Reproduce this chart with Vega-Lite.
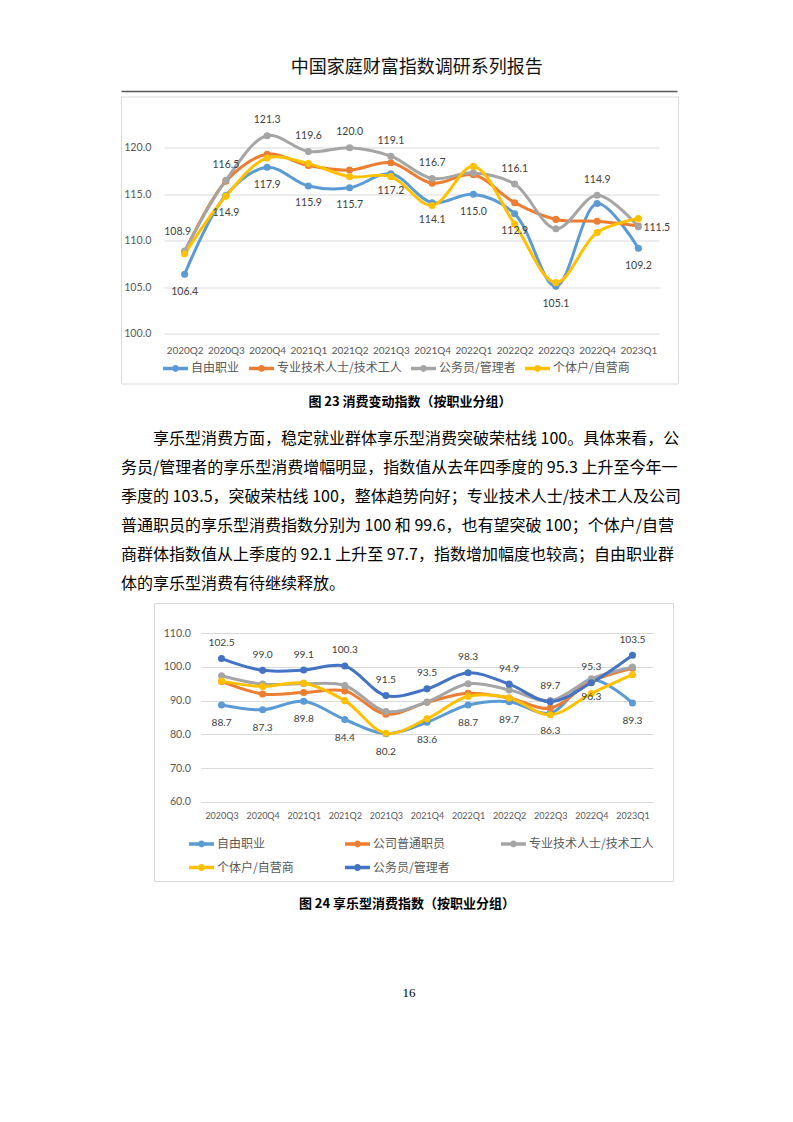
{
  "$schema": "https://vega.github.io/schema/vega-lite/v6.json",
  "padding": {"left": 120, "top": 44, "right": 0, "bottom": 0},
  "background": "white",
  "config": {"view": {"stroke": null}, "font": "Lato"},
  "spacing": 4.5,
  "bounds": "full",
  "resolve": {"scale": {"color": "independent"}, "legend": {"color": "independent"}},
  "vconcat": [
    {
      "width": 556, "height": 47,
      "data": {"values": [{"t": "中国家庭财富指数调研系列报告"}]},
      "mark": {"type": "text", "font": "Noto Sans CJK SC", "fontSize": 18, "color": "#111111", "dx": 17.7, "baseline": "middle"},
      "encoding": {
        "text": {"field": "t"},
        "x": {"field": "t", "type": "nominal", "scale": {"type": "point", "padding": 0.5},
              "axis": {"title": null, "labels": false, "ticks": false, "grid": false, "domain": true, "domainColor": "#595959", "domainWidth": 1.3}}
      }
    },
    {
      "width": 557, "height": 287,
      "view": {"stroke": "#D9D9D9", "strokeWidth": 1},
      "data": {"values": [
        {"s": "自由职业", "q": "2020Q2", "v": 106.4}, {"s": "自由职业", "q": "2020Q3", "v": 114.9}, {"s": "自由职业", "q": "2020Q4", "v": 117.9}, {"s": "自由职业", "q": "2021Q1", "v": 115.9}, {"s": "自由职业", "q": "2021Q2", "v": 115.7}, {"s": "自由职业", "q": "2021Q3", "v": 117.2}, {"s": "自由职业", "q": "2021Q4", "v": 114.1}, {"s": "自由职业", "q": "2022Q1", "v": 115.0}, {"s": "自由职业", "q": "2022Q2", "v": 112.9}, {"s": "自由职业", "q": "2022Q3", "v": 105.1}, {"s": "自由职业", "q": "2022Q4", "v": 114.0}, {"s": "自由职业", "q": "2023Q1", "v": 109.2},
        {"s": "专业技术人士/技术工人", "q": "2020Q2", "v": 108.8}, {"s": "专业技术人士/技术工人", "q": "2020Q3", "v": 116.4}, {"s": "专业技术人士/技术工人", "q": "2020Q4", "v": 119.3}, {"s": "专业技术人士/技术工人", "q": "2021Q1", "v": 118.1}, {"s": "专业技术人士/技术工人", "q": "2021Q2", "v": 117.6}, {"s": "专业技术人士/技术工人", "q": "2021Q3", "v": 118.4}, {"s": "专业技术人士/技术工人", "q": "2021Q4", "v": 116.2}, {"s": "专业技术人士/技术工人", "q": "2022Q1", "v": 117.1}, {"s": "专业技术人士/技术工人", "q": "2022Q2", "v": 114.1}, {"s": "专业技术人士/技术工人", "q": "2022Q3", "v": 112.3}, {"s": "专业技术人士/技术工人", "q": "2022Q4", "v": 112.1}, {"s": "专业技术人士/技术工人", "q": "2023Q1", "v": 111.6},
        {"s": "公务员/管理者", "q": "2020Q2", "v": 108.9}, {"s": "公务员/管理者", "q": "2020Q3", "v": 116.5}, {"s": "公务员/管理者", "q": "2020Q4", "v": 121.3}, {"s": "公务员/管理者", "q": "2021Q1", "v": 119.6}, {"s": "公务员/管理者", "q": "2021Q2", "v": 120.0}, {"s": "公务员/管理者", "q": "2021Q3", "v": 119.1}, {"s": "公务员/管理者", "q": "2021Q4", "v": 116.7}, {"s": "公务员/管理者", "q": "2022Q1", "v": 117.3}, {"s": "公务员/管理者", "q": "2022Q2", "v": 116.1}, {"s": "公务员/管理者", "q": "2022Q3", "v": 111.3}, {"s": "公务员/管理者", "q": "2022Q4", "v": 114.9}, {"s": "公务员/管理者", "q": "2023Q1", "v": 111.5},
        {"s": "个体户/自营商", "q": "2020Q2", "v": 108.6}, {"s": "个体户/自营商", "q": "2020Q3", "v": 114.8}, {"s": "个体户/自营商", "q": "2020Q4", "v": 118.9}, {"s": "个体户/自营商", "q": "2021Q1", "v": 118.3}, {"s": "个体户/自营商", "q": "2021Q2", "v": 116.9}, {"s": "个体户/自营商", "q": "2021Q3", "v": 116.9}, {"s": "个体户/自营商", "q": "2021Q4", "v": 113.8}, {"s": "个体户/自营商", "q": "2022Q1", "v": 118.0}, {"s": "个体户/自营商", "q": "2022Q2", "v": 111.8}, {"s": "个体户/自营商", "q": "2022Q3", "v": 105.5}, {"s": "个体户/自营商", "q": "2022Q4", "v": 110.9}, {"s": "个体户/自营商", "q": "2023Q1", "v": 112.4}
      ]},
      "encoding": {
        "x": {"field": "q", "type": "ordinal", "sort": null,
              "scale": {"type": "point", "range": [43, 538], "padding": 0.5},
              "axis": {"title": null, "orient": "bottom", "offset": -49.7, "labelPadding": 11.5, "ticks": false, "domain": false, "grid": false, "labelAngle": 0, "labelFont": "Lato", "labelFontSize": 10, "labelColor": "#595959"}},
        "y": {"field": "v", "type": "quantitative",
              "scale": {"domain": [100, 120], "range": [237.3, 51.3], "nice": false, "zero": false},
              "axis": {"title": null, "offset": -43, "labelPadding": 13, "values": [100, 105, 110, 115, 120], "format": ".1f", "ticks": false, "domain": false, "grid": true, "gridColor": "#D9D9D9", "gridWidth": 1, "labelFont": "Lato", "labelFontSize": 10.7, "labelColor": "#595959"}},
        "color": {"field": "s", "type": "nominal",
                  "scale": {"domain": ["自由职业", "专业技术人士/技术工人", "公务员/管理者", "个体户/自营商"], "range": ["#5B9BD5", "#ED7D31", "#A5A5A5", "#FFC000"]},
                  "legend": {"title": null, "orient": "none", "legendX": 40, "legendY": 257, "direction": "horizontal", "columns": 4, "columnPadding": 2, "padding": 0,
                             "symbolType": "M-1,0L1,0M-0.14,0A0.14,0.14,0,1,0,0.14,0A0.14,0.14,0,1,0,-0.14,0", "symbolSize": 625, "symbolStrokeWidth": 3.5,
                             "labelFont": "Noto Sans CJK SC", "labelFontSize": 12, "labelColor": "#595959", "labelOffset": 1}}
      },
      "layer": [
        {"mark": {"type": "line", "interpolate": "catmull-rom", "strokeWidth": 3}},
        {"mark": {"type": "point", "filled": true, "size": 50, "opacity": 1}},
        {"transform": [{"filter": "datum.s === '公务员/管理者' && indexof(['2020Q2', '2022Q1', '2022Q3', '2023Q1'], datum.q) < 0"}],
         "mark": {"type": "text", "dy": -15.5, "font": "Lato", "fontSize": 10.5},
         "encoding": {"text": {"field": "v", "format": ".1f"}, "color": {"value": "#404040"}}},
        {"transform": [{"filter": "datum.s === '公务员/管理者' && datum.q === '2020Q2'"}],
         "mark": {"type": "text", "dx": -7, "dy": -19, "font": "Lato", "fontSize": 10.5},
         "encoding": {"text": {"field": "v", "format": ".1f"}, "color": {"value": "#404040"}}},
        {"transform": [{"filter": "datum.s === '公务员/管理者' && datum.q === '2023Q1'"}],
         "mark": {"type": "text", "align": "left", "dx": 5, "dy": 1, "font": "Lato", "fontSize": 10.5},
         "encoding": {"text": {"field": "v", "format": ".1f"}, "color": {"value": "#404040"}}},
        {"transform": [{"filter": "datum.s === '自由职业' && datum.q !== '2022Q4'"}],
         "mark": {"type": "text", "dy": 17.5, "font": "Lato", "fontSize": 10.5},
         "encoding": {"text": {"field": "v", "format": ".1f"}, "color": {"value": "#404040"}}}
      ]
    },
    {
      "width": 578, "height": 26,
      "data": {"values": [{"t": "图 23 消费变动指数（按职业分组）"}]},
      "mark": {"type": "text", "font": "Noto Sans CJK SC", "fontSize": 13, "fontWeight": "bold", "color": "#000000", "baseline": "middle"},
      "encoding": {"text": {"field": "t"}}
    },
    {
      "width": 560, "height": 178,
      "data": {"values": [
        {"n": 1, "t": "享乐型消费方面，稳定就业群体享乐型消费突破荣枯线 100。具体来看，公"},
        {"n": 2, "t": "务员/管理者的享乐型消费增幅明显，指数值从去年四季度的 95.3 上升至今年一"},
        {"n": 3, "t": "季度的 103.5，突破荣枯线 100，整体趋势向好；专业技术人士/技术工人及公司"},
        {"n": 4, "t": "普通职员的享乐型消费指数分别为 100 和 99.6，也有望突破 100；个体户/自营"},
        {"n": 5, "t": "商群体指数值从上季度的 92.1 上升至 97.7，指数增加幅度也较高；自由职业群"},
        {"n": 6, "t": "体的享乐型消费有待继续释放。"}
      ]},
      "encoding": {
        "text": {"field": "t"},
        "y": {"field": "n", "type": "ordinal", "scale": {"type": "point", "range": [19, 164], "padding": 0}, "axis": null},
        "x": {"datum": 0, "type": "quantitative", "scale": {"domain": [0, 1], "nice": false}, "axis": null}
      },
      "layer": [
        {"transform": [{"filter": "datum.n === 1"}],
         "mark": {"type": "text", "align": "left", "baseline": "middle", "dx": 32, "font": "Noto Sans CJK SC", "fontSize": 16, "color": "#000000"}},
        {"transform": [{"filter": "datum.n > 1"}],
         "mark": {"type": "text", "align": "left", "baseline": "middle", "font": "Noto Sans CJK SC", "fontSize": 16, "color": "#000000"}}
      ]
    },
    {
      "spacing": 0,
      "bounds": "flush",
      "resolve": {"scale": {"color": "independent"}, "legend": {"color": "independent"}},
      "hconcat": [
        {"width": 33, "height": 278, "data": {"values": []}, "mark": "point"},
        {
          "width": 519, "height": 278,
          "view": {"stroke": "#D9D9D9", "strokeWidth": 1},
          "data": {"values": [
            {"s": "自由职业", "q": "2020Q3", "v": 88.7}, {"s": "自由职业", "q": "2020Q4", "v": 87.3}, {"s": "自由职业", "q": "2021Q1", "v": 89.8}, {"s": "自由职业", "q": "2021Q2", "v": 84.4}, {"s": "自由职业", "q": "2021Q3", "v": 80.2}, {"s": "自由职业", "q": "2021Q4", "v": 83.6}, {"s": "自由职业", "q": "2022Q1", "v": 88.7}, {"s": "自由职业", "q": "2022Q2", "v": 89.7}, {"s": "自由职业", "q": "2022Q3", "v": 86.3}, {"s": "自由职业", "q": "2022Q4", "v": 96.3}, {"s": "自由职业", "q": "2023Q1", "v": 89.3},
            {"s": "公司普通职员", "q": "2020Q3", "v": 95.7}, {"s": "公司普通职员", "q": "2020Q4", "v": 92.0}, {"s": "公司普通职员", "q": "2021Q1", "v": 92.4}, {"s": "公司普通职员", "q": "2021Q2", "v": 92.9}, {"s": "公司普通职员", "q": "2021Q3", "v": 86.0}, {"s": "公司普通职员", "q": "2021Q4", "v": 89.5}, {"s": "公司普通职员", "q": "2022Q1", "v": 92.2}, {"s": "公司普通职员", "q": "2022Q2", "v": 90.8}, {"s": "公司普通职员", "q": "2022Q3", "v": 87.8}, {"s": "公司普通职员", "q": "2022Q4", "v": 95.7}, {"s": "公司普通职员", "q": "2023Q1", "v": 99.6},
            {"s": "专业技术人士/技术工人", "q": "2020Q3", "v": 97.4}, {"s": "专业技术人士/技术工人", "q": "2020Q4", "v": 94.9}, {"s": "专业技术人士/技术工人", "q": "2021Q1", "v": 95.0}, {"s": "专业技术人士/技术工人", "q": "2021Q2", "v": 94.5}, {"s": "专业技术人士/技术工人", "q": "2021Q3", "v": 86.8}, {"s": "专业技术人士/技术工人", "q": "2021Q4", "v": 89.6}, {"s": "专业技术人士/技术工人", "q": "2022Q1", "v": 95.0}, {"s": "专业技术人士/技术工人", "q": "2022Q2", "v": 93.2}, {"s": "专业技术人士/技术工人", "q": "2022Q3", "v": 90.0}, {"s": "专业技术人士/技术工人", "q": "2022Q4", "v": 96.5}, {"s": "专业技术人士/技术工人", "q": "2023Q1", "v": 100.0},
            {"s": "个体户/自营商", "q": "2020Q3", "v": 95.8}, {"s": "个体户/自营商", "q": "2020Q4", "v": 94.2}, {"s": "个体户/自营商", "q": "2021Q1", "v": 95.2}, {"s": "个体户/自营商", "q": "2021Q2", "v": 90.0}, {"s": "个体户/自营商", "q": "2021Q3", "v": 80.3}, {"s": "个体户/自营商", "q": "2021Q4", "v": 84.6}, {"s": "个体户/自营商", "q": "2022Q1", "v": 91.3}, {"s": "个体户/自营商", "q": "2022Q2", "v": 90.8}, {"s": "个体户/自营商", "q": "2022Q3", "v": 85.8}, {"s": "个体户/自营商", "q": "2022Q4", "v": 92.1}, {"s": "个体户/自营商", "q": "2023Q1", "v": 97.7},
            {"s": "公务员/管理者", "q": "2020Q3", "v": 102.5}, {"s": "公务员/管理者", "q": "2020Q4", "v": 99.0}, {"s": "公务员/管理者", "q": "2021Q1", "v": 99.1}, {"s": "公务员/管理者", "q": "2021Q2", "v": 100.3}, {"s": "公务员/管理者", "q": "2021Q3", "v": 91.5}, {"s": "公务员/管理者", "q": "2021Q4", "v": 93.5}, {"s": "公务员/管理者", "q": "2022Q1", "v": 98.3}, {"s": "公务员/管理者", "q": "2022Q2", "v": 94.9}, {"s": "公务员/管理者", "q": "2022Q3", "v": 89.7}, {"s": "公务员/管理者", "q": "2022Q4", "v": 95.3}, {"s": "公务员/管理者", "q": "2023Q1", "v": 103.5}
          ]},
          "encoding": {
            "x": {"field": "q", "type": "ordinal", "sort": null,
                  "scale": {"type": "point", "range": [47, 499], "padding": 0.5},
                  "axis": {"title": null, "orient": "bottom", "offset": -79.3, "labelPadding": 10, "ticks": false, "domain": false, "grid": false, "labelAngle": 0, "labelFont": "Lato", "labelFontSize": 9, "labelColor": "#595959"}},
            "y": {"field": "v", "type": "quantitative",
                  "scale": {"domain": [60, 110], "range": [198.7, 30.3], "nice": false, "zero": false},
                  "axis": {"title": null, "offset": -47, "labelPadding": 10.5, "values": [60, 70, 80, 90, 100, 110], "format": ".1f", "ticks": false, "domain": false, "grid": true, "gridColor": "#D9D9D9", "gridWidth": 1, "labelFont": "Lato", "labelFontSize": 10.7, "labelColor": "#595959"}},
            "color": {"field": "s", "type": "nominal",
                      "scale": {"domain": ["自由职业", "公司普通职员", "专业技术人士/技术工人", "个体户/自营商", "公务员/管理者"], "range": ["#5B9BD5", "#ED7D31", "#A5A5A5", "#FFC000", "#4472C4"]},
                      "legend": {"title": null, "orient": "none", "legendX": 33, "legendY": 226, "direction": "horizontal", "columns": 3, "columnPadding": 44, "rowPadding": -9, "padding": 0,
                                 "symbolType": "M-1,0L1,0M-0.14,0A0.14,0.14,0,1,0,0.14,0A0.14,0.14,0,1,0,-0.14,0", "symbolSize": 625, "symbolStrokeWidth": 3.5,
                                 "labelFont": "Noto Sans CJK SC", "labelFontSize": 12, "labelColor": "#595959", "labelOffset": 1}}
          },
          "layer": [
            {"mark": {"type": "line", "interpolate": "catmull-rom", "strokeWidth": 3}},
            {"mark": {"type": "point", "filled": true, "size": 50, "opacity": 1}},
            {"transform": [{"filter": "datum.s === '公务员/管理者'"}],
             "mark": {"type": "text", "dy": -15.5, "font": "Lato", "fontSize": 10.2},
             "encoding": {"text": {"field": "v", "format": ".1f"}, "color": {"value": "#404040"}}},
            {"transform": [{"filter": "datum.s === '自由职业'"}],
             "mark": {"type": "text", "dy": 18, "font": "Lato", "fontSize": 10.2},
             "encoding": {"text": {"field": "v", "format": ".1f"}, "color": {"value": "#404040"}}}
          ]
        }
      ]
    },
    {
      "width": 572, "height": 34,
      "data": {"values": [{"t": "图 24 享乐型消费指数（按职业分组）"}]},
      "mark": {"type": "text", "font": "Noto Sans CJK SC", "fontSize": 13, "fontWeight": "bold", "color": "#000000", "baseline": "middle"},
      "encoding": {"text": {"field": "t"}}
    },
    {
      "width": 576, "height": 136,
      "data": {"values": [{"t": "16"}]},
      "mark": {"type": "text", "font": "Liberation Serif", "fontSize": 13, "color": "#000000", "baseline": "middle"},
      "encoding": {"text": {"field": "t"}}
    }
  ]
}
